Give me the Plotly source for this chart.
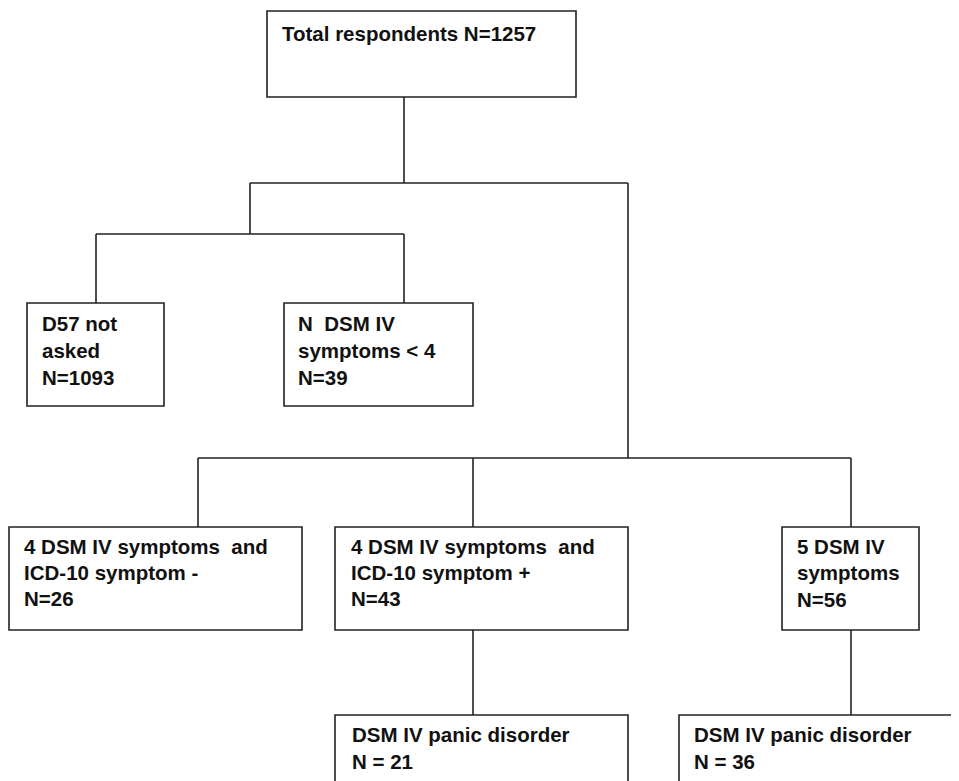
import plotly.graph_objects as go

# ---- content (data) ----
node_ids = ["total", "d57", "lt4", "dsm4_icd_neg", "dsm4_icd_pos", "dsm5", "panic_a", "panic_b"]
node_lines = [
    ["Total respondents N=1257"],
    ["D57 not", "asked", "N=1093"],
    ["N  DSM IV", "symptoms < 4", "N=39"],
    ["4 DSM IV symptoms  and", "ICD-10 symptom -", "N=26"],
    ["4 DSM IV symptoms  and", "ICD-10 symptom +", "N=43"],
    ["5 DSM IV", "symptoms", "N=56"],
    ["DSM IV panic disorder", "N = 21"],
    ["DSM IV panic disorder", "N = 36"],
]

# ---- layout geometry (page pixels, y downward) ----
W, H = 959, 781
PAGE_MARGIN = 8  # default body margin of the html page
box_geom = {  # x0, x1, y0, y1
    "total": (267, 576, 11, 97),
    "d57": (27, 164, 303, 406),
    "lt4": (284, 473, 303, 406),
    "dsm4_icd_neg": (9, 302, 527, 630),
    "dsm4_icd_pos": (335, 628, 527, 630),
    "dsm5": (782, 919, 527, 630),
    "panic_a": (335, 628, 715, 820),
    "panic_b": (679, 1000, 715, 820),
}
text_geom = {  # text left x, baselines
    "total": (281, [40]),
    "d57": (41, [330, 357, 384]),
    "lt4": (297, [330, 357, 384]),
    "dsm4_icd_neg": (23, [553, 579, 605]),
    "dsm4_icd_pos": (350, [553, 579, 605]),
    "dsm5": (796, [553, 579, 606]),
    "panic_a": (351, [741, 768]),
    "panic_b": (693, [741, 768]),
}
connectors = [  # polylines
    [(404, 97), (404, 183)],
    [(250, 183), (628, 183)],
    [(250, 183), (250, 234)],
    [(96, 234), (404, 234)],
    [(96, 234), (96, 303)],
    [(404, 234), (404, 303)],
    [(628, 183), (628, 458)],
    [(198, 458), (851, 458)],
    [(198, 458), (198, 527)],
    [(473, 458), (473, 527)],
    [(851, 458), (851, 527)],
    [(473, 630), (473, 715)],
    [(851, 630), (851, 715)],
]

LINE_COLOR = "#222222"
TEXT_COLOR = "#111111"
FONT = dict(family="Liberation Sans, Arial, sans-serif", size=20.5, color=TEXT_COLOR, weight="bold")

fig = go.Figure()
shapes = []
for pts in connectors:
    path = "M " + " L ".join(f"{x},{y}" for x, y in pts)
    shapes.append(dict(type="path", path=path, xref="x", yref="y",
                       line=dict(color=LINE_COLOR, width=1.6)))
for nid in node_ids:
    x0, x1, y0, y1 = box_geom[nid]
    shapes.append(dict(type="rect", x0=x0, x1=x1, y0=y0, y1=y1, xref="x", yref="y",
                       line=dict(color=LINE_COLOR, width=1.6), fillcolor="rgba(0,0,0,0)"))

annotations = []
for nid, lines in zip(node_ids, node_lines):
    tx, baselines = text_geom[nid]
    for line, b in zip(lines, baselines):
        annotations.append(dict(x=tx, y=b - 7, xref="x", yref="y", text=line,
                                showarrow=False, xanchor="left", yanchor="middle",
                                borderpad=0, font=FONT))

fig.add_trace(go.Scatter(x=[PAGE_MARGIN, W], y=[PAGE_MARGIN, H], mode="markers",
                         marker=dict(opacity=0), hoverinfo="skip", showlegend=False))
fig.update_layout(
    width=W - PAGE_MARGIN, height=H - PAGE_MARGIN, margin=dict(l=0, r=0, t=0, b=0),
    paper_bgcolor="white", plot_bgcolor="white",
    xaxis=dict(range=[PAGE_MARGIN, W], visible=False, fixedrange=True),
    yaxis=dict(range=[H, PAGE_MARGIN], visible=False, fixedrange=True),
    shapes=shapes, annotations=annotations, showlegend=False,
)
fig.write_html("out.html")
